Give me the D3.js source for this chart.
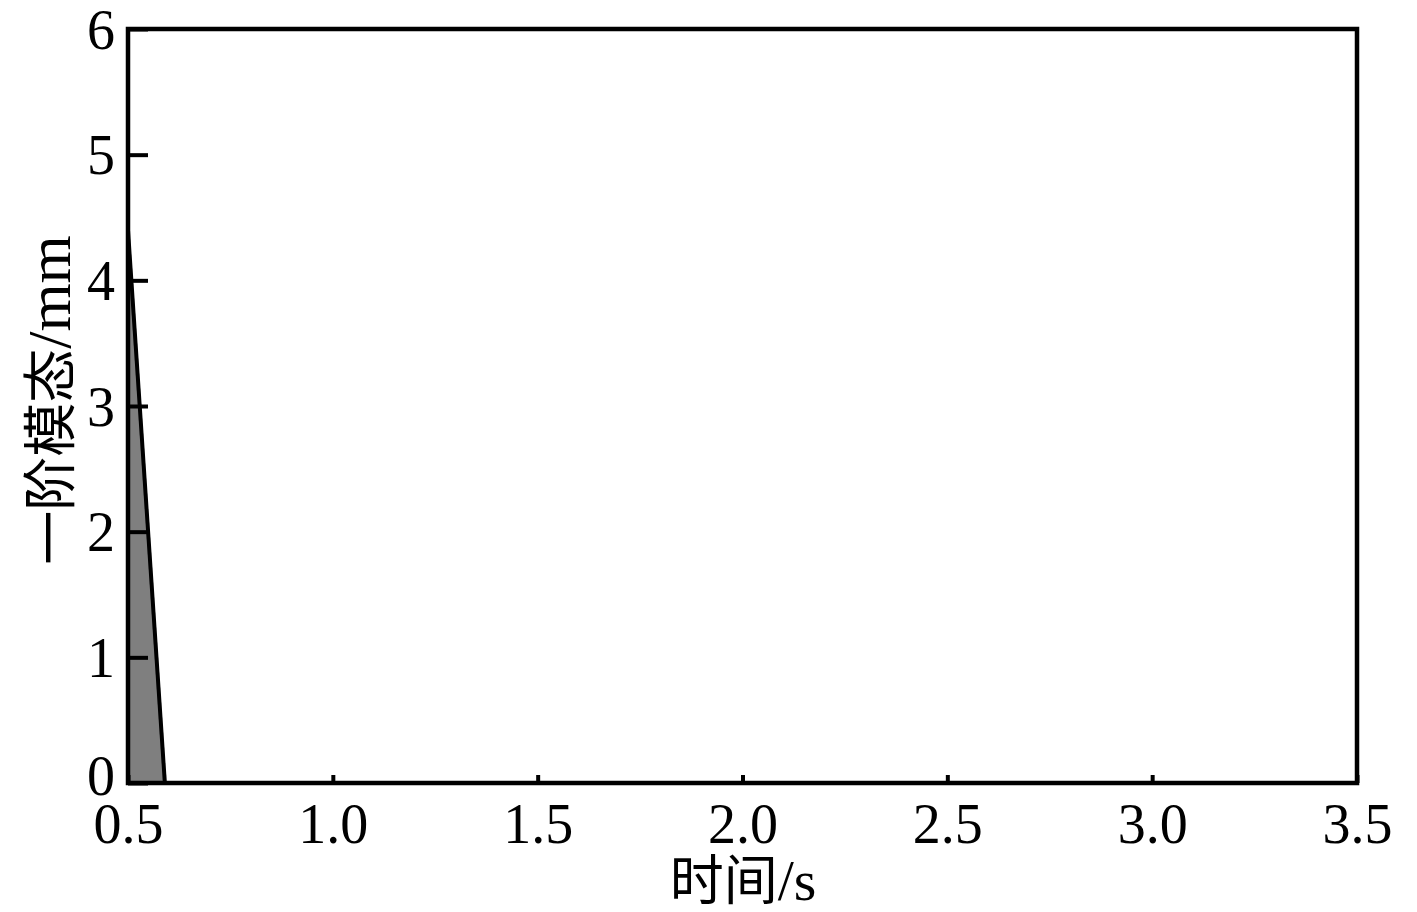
<!DOCTYPE html>
<html><head><meta charset="utf-8">
<script src="https://cdn.jsdelivr.net/npm/d3@7"></script>
<style>body{margin:0;background:#fff}</style>
</head><body>
<svg id="c" width="1417" height="912"></svg>
<script>
const times = [0.5, 0.59];
const mode1 = [4.4, 0];
const xTicks = [0.5, 1.0, 1.5, 2.0, 2.5, 3.0, 3.5];
const yTicks = [0, 1, 2, 3, 4, 5, 6];
const xTitle = ["时间", "/s"];
const yTitle = ["一阶模态", "/mm"];

const svg = d3.select("#c");
const L = 128, R = 1357, T = 29, B = 783;
const x = d3.scaleLinear().domain([0.5, 3.5]).range([L, R]);
const y = d3.scaleLinear().domain([0, 6]).range([B, T]);
const font = "'Liberation Serif','Times New Roman','Noto Sans CJK SC',serif";

const pts = times.map((t, i) => [t, mode1[i]]);
const area = d3.area().x(d => x(d[0])).y0(y(0)).y1(d => y(d[1]));
svg.append("path").datum(pts).attr("d", area).attr("fill", "#7f7f7f");
svg.append("path").datum(pts)
  .attr("d", d3.line().x(d => x(d[0])).y(d => y(d[1])))
  .attr("fill", "none").attr("stroke", "#000").attr("stroke-width", 4);

// frame
svg.append("rect").attr("x", L).attr("y", T).attr("width", R - L).attr("height", B - T)
  .attr("fill", "none").attr("stroke", "#000").attr("stroke-width", 4.5);

// y axis
const ya = svg.append("g").attr("transform", `translate(${L},0)`)
  .call(d3.axisLeft(y).tickValues(yTicks).tickFormat(d3.format("d")).tickSize(-20).tickPadding(13));
ya.select(".domain").remove();
ya.selectAll("line").attr("stroke-width", 4);
ya.selectAll("text").attr("font-family", font).attr("font-size", 56).attr("fill", "#000")
  .attr("dy", d => d === 0 ? "0.2em" : "0.34em");

// x axis
const xa = svg.append("g").attr("transform", `translate(0,${B})`)
  .call(d3.axisBottom(x).tickValues(xTicks).tickFormat(d3.format(".1f")).tickSize(-8).tickPadding(20));
xa.select(".domain").remove();
xa.selectAll("line").attr("stroke-width", 4);
xa.selectAll("text").attr("font-family", font).attr("font-size", 56).attr("fill", "#000")
  .attr("dy", "0.71em");

const xt = svg.append("text").attr("x", 743).attr("y", 900).attr("text-anchor", "middle")
  .attr("font-family", font).attr("font-size", 54);
xt.append("tspan").text(xTitle[0]);
xt.append("tspan").attr("font-size", 58).text(xTitle[1]);
const yt = svg.append("text").attr("transform", "translate(70,400) rotate(-90)").attr("text-anchor", "middle")
  .attr("font-family", font).attr("font-size", 54);
yt.append("tspan").text(yTitle[0]);
yt.append("tspan").attr("font-size", 62).text(yTitle[1]);
</script>
</body></html>
